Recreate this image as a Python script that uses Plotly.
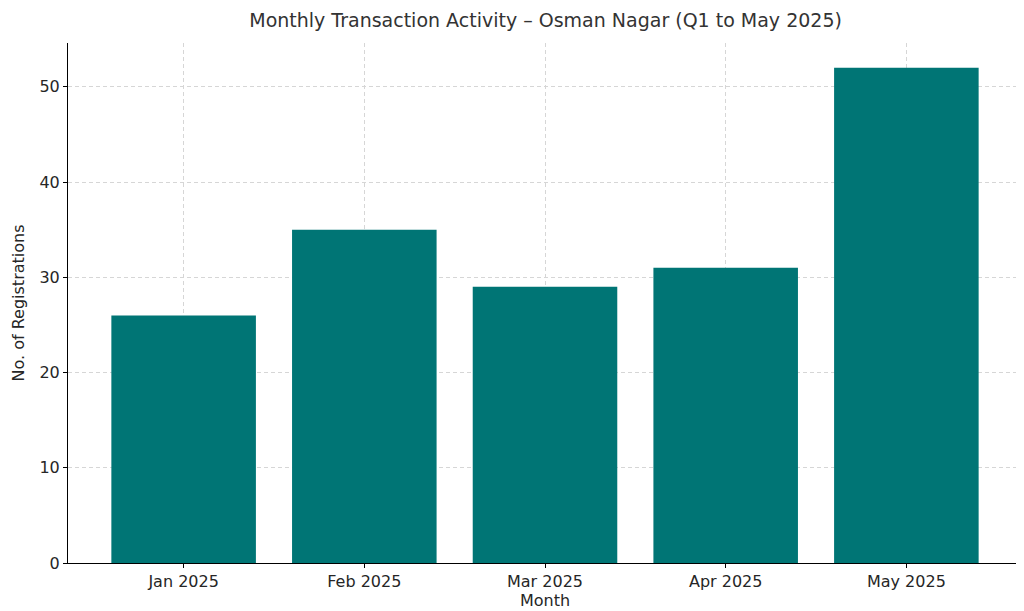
import plotly.graph_objects as go

# Data
months = ['Jan 2025', 'Feb 2025', 'Mar 2025', 'Apr 2025', 'May 2025']
registrations = [26, 35, 29, 31, 52]

fig = go.Figure()

fig.add_trace(go.Bar(
    x=months,
    y=registrations,
    marker=dict(color='#007575', line=dict(width=0)),
    width=0.8,
))

font = dict(family='DejaVu Sans', size=16, color='#262626')

fig.update_layout(
    width=1024,
    height=611,
    title=dict(
        text='Monthly Transaction Activity – Osman Nagar (Q1 to May 2025)',
        x=0.525, xanchor='center', y=0.99, yanchor='top',
        font=dict(family='DejaVu Sans', size=19, color='#333333'),
    ),
    font=font,
    plot_bgcolor='white',
    paper_bgcolor='white',
    showlegend=False,
    margin=dict(l=60, r=10, t=35, b=56),
    xaxis=dict(
        title=dict(text='Month', standoff=2, font=font),
        range=[-0.64, 4.64],
        automargin=False,
        showgrid=True, gridcolor='#d6d6d6', griddash='4px,3px', gridwidth=0.8,
        showline=True, linecolor='black', linewidth=1,
        ticks='outside', ticklen=4, tickcolor='black',
        layer='above traces',
    ),
    yaxis=dict(
        title=dict(text='No. of Registrations', standoff=10, font=font),
        range=[0, 54.6],
        dtick=10,
        automargin=False,
        showgrid=True, gridcolor='#d6d6d6', griddash='4px,3px', gridwidth=0.8,
        zeroline=False,
        showline=True, linecolor='black', linewidth=1,
        ticks='outside', ticklen=4, tickcolor='black',
        layer='above traces',
    ),
)

fig.write_html('out.html')
